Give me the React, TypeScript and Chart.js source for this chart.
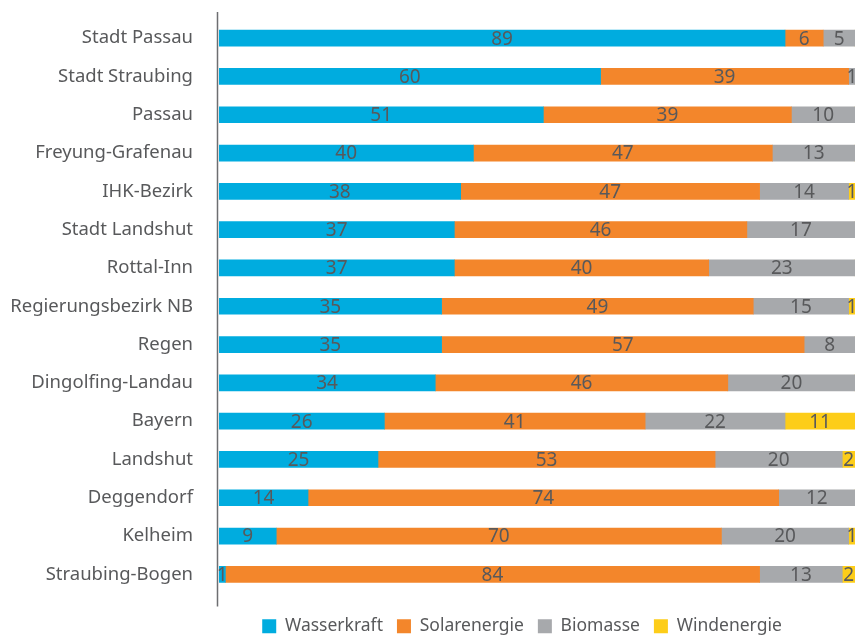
import React, { useEffect, useRef } from "react";
import { Chart, registerables } from "chart.js";

Chart.register(...registerables);

const categories = [
  "Stadt Passau",
  "Stadt Straubing",
  "Passau",
  "Freyung-Grafenau",
  "IHK-Bezirk",
  "Stadt Landshut",
  "Rottal-Inn",
  "Regierungsbezirk NB",
  "Regen",
  "Dingolfing-Landau",
  "Bayern",
  "Landshut",
  "Deggendorf",
  "Kelheim",
  "Straubing-Bogen",
];

const wasserkraft = [89, 60, 51, 40, 38, 37, 37, 35, 35, 34, 26, 25, 14, 9, 1];
const solarenergie = [6, 39, 39, 47, 47, 46, 40, 49, 57, 46, 41, 53, 74, 70, 84];
const biomasse = [5, 1, 10, 13, 14, 17, 23, 15, 8, 20, 22, 20, 12, 20, 13];
const windenergie = [0, 0, 0, 0, 1, 0, 0, 1, 0, 0, 11, 2, 0, 1, 2];

const seriesNames = ["Wasserkraft", "Solarenergie", "Biomasse", "Windenergie"];
const seriesColors = ["#00acdf", "#f3862b", "#a7a9ac", "#fdcd19"];

const FONT = "'Noto Sans', sans-serif";
const TEXT = "#58595b";

const valueLabels = {
  id: "valueLabels",
  afterDatasetsDraw(chart: any) {
    const ctx = chart.ctx;
    ctx.save();
    ctx.font = `19px ${FONT}`;
    ctx.fillStyle = TEXT;
    ctx.textAlign = "center";
    ctx.textBaseline = "middle";
    chart.data.datasets.forEach((ds: any, i: number) => {
      const meta = chart.getDatasetMeta(i);
      meta.data.forEach((el: any, j: number) => {
        const v = ds.data[j];
        if (!v) return;
        const p = el.getCenterPoint();
        ctx.fillText(String(v), p.x, p.y + 1);
      });
    });
    ctx.restore();
  },
};

const axisLine = {
  id: "axisLine",
  afterDraw(chart: any) {
    const { ctx, chartArea } = chart;
    ctx.save();
    ctx.strokeStyle = "#6d6e71";
    ctx.lineWidth = 1.5;
    ctx.beginPath();
    ctx.moveTo(chartArea.left - 1.5, chartArea.top - 7);
    ctx.lineTo(chartArea.left - 1.5, chartArea.bottom + 13);
    ctx.stroke();
    ctx.restore();
  },
};

const legendShift = {
  id: "legendShift",
  afterLayout(chart: any) {
    const lg = chart.legend;
    if (!lg) return;
    lg.top += 10;
    lg.bottom += 10;
    lg.left -= 15;
    lg.right -= 15;
  },
};

export default function App() {
  const ref = useRef<HTMLCanvasElement | null>(null);

  useEffect(() => {
    if (!ref.current) return;
    const series = [wasserkraft, solarenergie, biomasse, windenergie];
    const chart = new Chart(ref.current, {
      type: "bar",
      data: {
        labels: categories,
        datasets: series.map((d, i) => ({
          label: seriesNames[i],
          data: d,
          backgroundColor: seriesColors[i],
          borderWidth: 0,
          barThickness: 16,
        })),
      },
      options: {
        indexAxis: "y",
        animation: false,
        responsive: false,
        maintainAspectRatio: false,
        events: [],
        layout: { padding: { top: 19, right: 1, left: 0, bottom: 2 } },
        scales: {
          x: {
            stacked: true,
            min: 0,
            max: 100,
            grid: { display: false },
            border: { display: false },
            ticks: { display: false },
            afterFit: (scale: any) => {
              scale.height = 0;
            },
          },
          y: {
            stacked: true,
            grid: { display: false, drawTicks: false },
            border: { display: false },
            ticks: {
              color: TEXT,
              font: { family: FONT, size: 18.5 },
              padding: 26,
            },
            afterFit: (scale: any) => {
              scale.width = 219;
              scale.paddingTop = 0;
              scale.paddingBottom = 0;
            },
          },
        },
        plugins: {
          legend: {
            position: "bottom",
            fullSize: false,
            labels: {
              boxWidth: 14,
              boxHeight: 14,
              padding: 14,
              color: TEXT,
              font: { family: FONT, size: 17.5 },
            },
          },
          tooltip: { enabled: false },
        },
      },
      plugins: [valueLabels, axisLine, legendShift],
    });
    return () => chart.destroy();
  }, []);

  return (
    <div style={{ position: "fixed", left: 0, top: 0, width: 856, height: 637, background: "#fff" }}>
      <canvas ref={ref} width={856} height={637} style={{ width: 856, height: 637 }} />
    </div>
  );
}
